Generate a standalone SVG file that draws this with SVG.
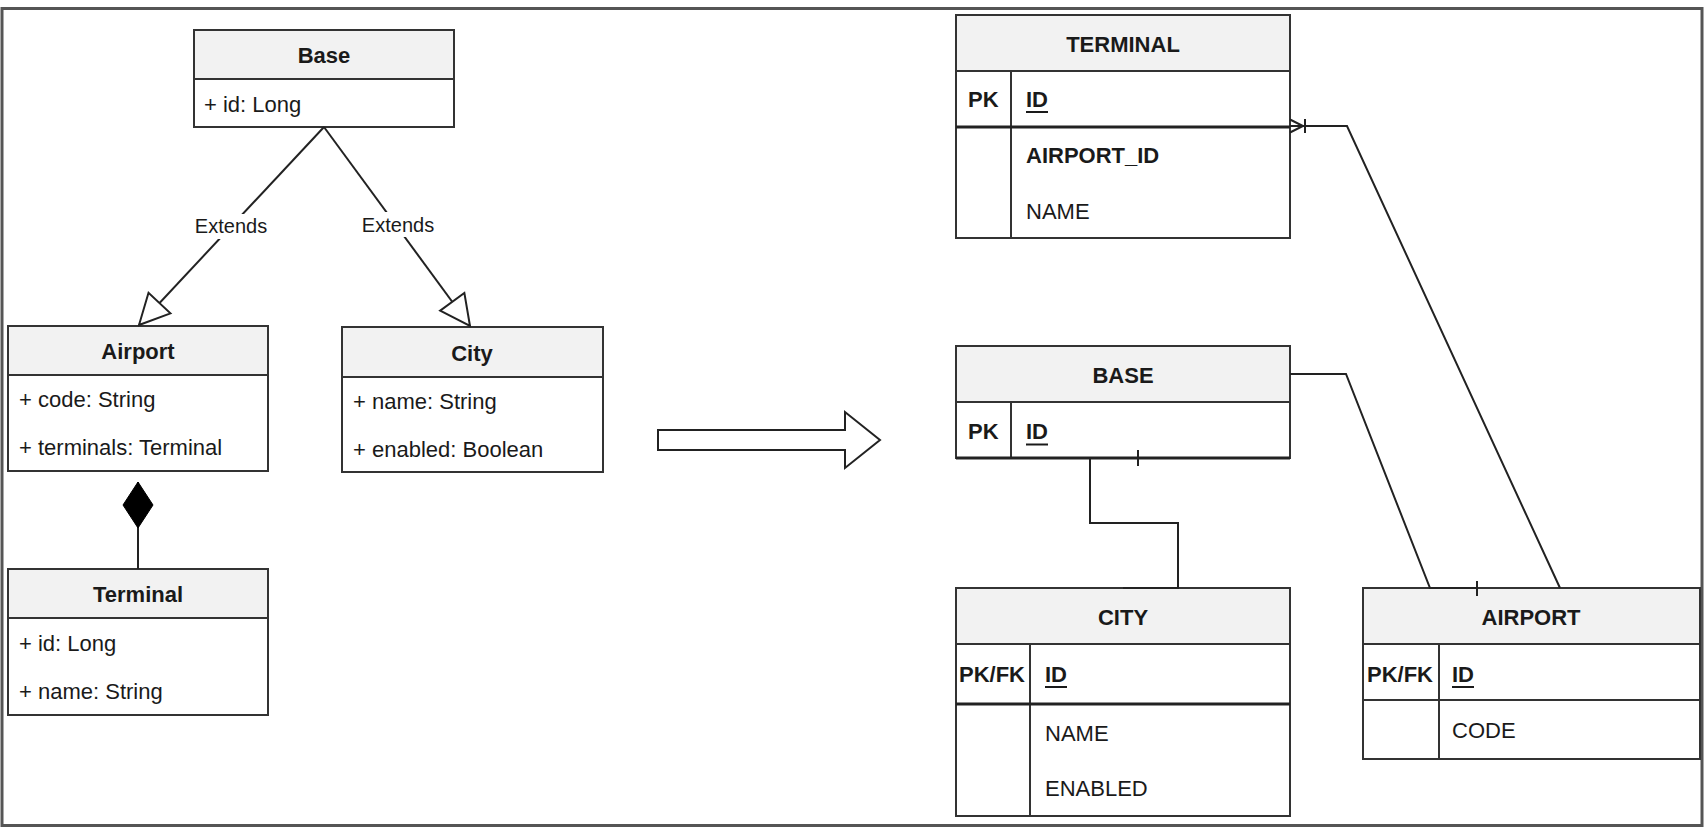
<svg xmlns="http://www.w3.org/2000/svg" width="1705" height="829" viewBox="0 0 1705 829">
<style>
.frame{fill:#fff;stroke:#555;stroke-width:3}
.box{fill:#fff;stroke:#333;stroke-width:2}
.hdr{fill:#f2f2f2;stroke:#333;stroke-width:2}
.ln{stroke:#333;stroke-width:2;fill:none}
.pk{stroke:#222;stroke-width:3;fill:none}
.t{font-family:"Liberation Sans",Arial,sans-serif;font-size:22px;fill:#1a1a1a}
.b{font-weight:bold}
.c{text-anchor:middle}
.lbl{font-size:20px}
.conn{stroke:#222;stroke-width:2;fill:none}
.ul{stroke:#1a1a1a;stroke-width:2}
</style>
<defs>
<marker id="hollowTri" markerUnits="userSpaceOnUse" markerWidth="34" markerHeight="34" viewBox="0 0 34 34" refX="32" refY="17" orient="auto">
<path d="M2,2 L32,17 L2,32 Z" fill="#fff" stroke="#222" stroke-width="2"/>
</marker>
<marker id="diamond" markerUnits="userSpaceOnUse" markerWidth="50" markerHeight="34" viewBox="0 0 50 34" refX="48" refY="17" orient="auto">
<path d="M2,17 L25,2 L48,17 L25,32 Z" fill="#000" stroke="#000" stroke-width="1"/>
</marker>
</defs>
<rect class="frame" x="2" y="8.5" width="1700" height="817"/>

<g id="uml-base">
<rect class="box" x="194" y="30" width="260" height="97"/>
<rect class="hdr" x="194" y="30" width="260" height="49"/>
<text class="t b c" x="324" y="63">Base</text>
<text class="t" x="204" y="112">+ id: Long</text>
</g>

<g id="uml-airport">
<rect class="box" x="8" y="326" width="260" height="145"/>
<rect class="hdr" x="8" y="326" width="260" height="49"/>
<text class="t b c" x="138" y="359">Airport</text>
<text class="t" x="19" y="407">+ code: String</text>
<text class="t" x="19" y="455">+ terminals: Terminal</text>
</g>

<g id="uml-city">
<rect class="box" x="342" y="327" width="261" height="145"/>
<rect class="hdr" x="342" y="327" width="261" height="50"/>
<text class="t b c" x="472" y="361">City</text>
<text class="t" x="353" y="409">+ name: String</text>
<text class="t" x="353" y="456.5">+ enabled: Boolean</text>
</g>

<g id="uml-terminal">
<rect class="box" x="8" y="569" width="260" height="146"/>
<rect class="hdr" x="8" y="569" width="260" height="49"/>
<text class="t b c" x="138" y="602">Terminal</text>
<text class="t" x="19" y="650.5">+ id: Long</text>
<text class="t" x="19" y="699">+ name: String</text>
</g>

<g id="er-terminal">
<rect class="box" x="956" y="15" width="334" height="223"/>
<rect class="hdr" x="956" y="15" width="334" height="56"/>
<line class="ln" x1="1011" y1="71" x2="1011" y2="238"/>
<line class="pk" x1="956" y1="127" x2="1290" y2="127"/>
<text class="t b c" x="1123" y="51.5">TERMINAL</text>
<text class="t b" x="968" y="106.5">PK</text>
<text class="t b" x="1026" y="106.5">ID</text>
<line class="ul" x1="1026" y1="112" x2="1048" y2="112"/>
<text class="t b" x="1026" y="162.7">AIRPORT_ID</text>
<text class="t" x="1026" y="219">NAME</text>
</g>

<g id="er-base">
<rect class="box" x="956" y="346" width="334" height="112"/>
<rect class="hdr" x="956" y="346" width="334" height="56"/>
<line class="ln" x1="1011" y1="402" x2="1011" y2="458"/>
<line class="pk" x1="956" y1="458" x2="1290" y2="458"/>
<text class="t b c" x="1123" y="382.7">BASE</text>
<text class="t b" x="968" y="439">PK</text>
<text class="t b" x="1026" y="439">ID</text>
<line class="ul" x1="1026" y1="444.5" x2="1048" y2="444.5"/>
</g>

<g id="er-city">
<rect class="box" x="956" y="588" width="334" height="228"/>
<rect class="hdr" x="956" y="588" width="334" height="56"/>
<line class="ln" x1="1030" y1="644" x2="1030" y2="816"/>
<line class="pk" x1="956" y1="704" x2="1290" y2="704"/>
<text class="t b c" x="1123" y="625">CITY</text>
<text class="t b" x="959" y="681.7">PK/FK</text>
<text class="t b" x="1045" y="681.7">ID</text>
<line class="ul" x1="1045" y1="687" x2="1067" y2="687"/>
<text class="t" x="1045" y="740.7">NAME</text>
<text class="t" x="1045" y="796">ENABLED</text>
</g>

<g id="er-airport">
<rect class="box" x="1363" y="588" width="337" height="171"/>
<rect class="hdr" x="1363" y="588" width="337" height="56"/>
<line class="ln" x1="1439" y1="644" x2="1439" y2="759"/>
<line class="ln" x1="1363" y1="700" x2="1700" y2="700"/>
<text class="t b c" x="1531" y="625">AIRPORT</text>
<text class="t b" x="1367" y="681.7">PK/FK</text>
<text class="t b" x="1452" y="681.7">ID</text>
<line class="ul" x1="1452" y1="687" x2="1474" y2="687"/>
<text class="t" x="1452" y="738.3">CODE</text>
</g>

<g id="connectors">
<line class="conn" x1="324" y1="127" x2="139" y2="325" marker-end="url(#hollowTri)"/>
<line class="conn" x1="324" y1="127" x2="470" y2="326" marker-end="url(#hollowTri)"/>
<line class="conn" x1="138" y1="569" x2="138" y2="482" marker-end="url(#diamond)"/>
<polygon class="conn" points="658,430 845,430 845,412 880,440 845,468 845,450 658,450" fill="#fff"/>
<path class="conn" d="M1290,126 L1347,126 L1560,588"/>
<path class="conn" d="M1290,119.5 L1303,126 L1290,132.5 M1305,119 V133"/>
<path class="conn" d="M1290,374 L1346,374 L1430,588 L1477,588"/>
<path class="conn" d="M1477,581 V596"/>
<path class="conn" d="M1138,458 L1090,458 L1090,523 L1178,523 L1178,588 L1123,588"/>
<path class="conn" d="M1138,450 V466"/>
<rect x="193" y="214" width="76" height="25" fill="#fff"/>
<text class="t lbl c" x="231" y="233">Extends</text>
<rect x="360" y="212" width="76" height="25" fill="#fff"/>
<text class="t lbl c" x="398" y="231.5">Extends</text>
</g>
</svg>
